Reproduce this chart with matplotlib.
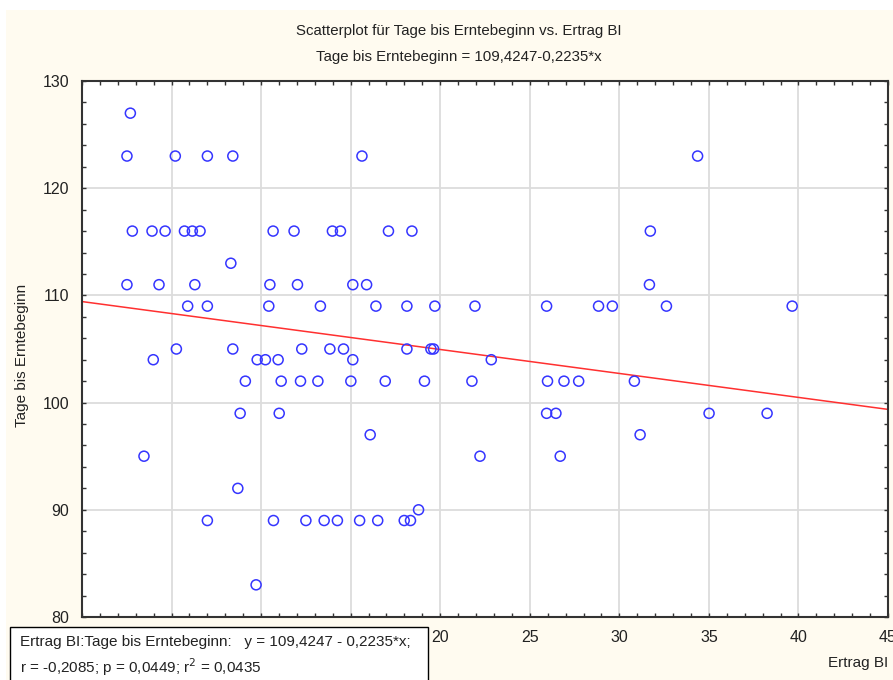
import matplotlib
matplotlib.use("Agg")
import matplotlib.pyplot as plt
from matplotlib.patches import Rectangle
from matplotlib.ticker import MultipleLocator
import numpy as np

plt.rcParams["font.family"] = ["Liberation Sans Narrow", "Liberation Sans", "DejaVu Sans"]

# Ertrag BI (x) and Tage bis Erntebeginn (y)
ertrag = [
    2.70,
    2.51, 5.21, 7.00, 8.42, 15.63, 34.37,
    2.81, 3.91, 4.64, 5.72, 6.16, 6.59, 10.67, 11.84, 13.98, 14.43, 17.11, 18.42, 31.73,
    8.31,
    2.51, 4.30, 6.30, 10.49, 12.03, 15.12, 15.89, 31.68,
    5.90, 7.00, 10.43, 13.31, 16.41, 18.14, 19.70, 21.94, 25.94, 28.84, 29.61, 32.63, 39.65,
    5.27, 8.42, 12.27, 13.84, 14.60, 18.14, 19.48, 19.63,
    3.98, 9.78, 10.24, 10.95, 15.12, 22.85,
    9.12, 11.12, 12.20, 13.17, 15.01, 16.93, 19.12, 21.77, 25.99, 26.91, 27.73, 30.84,
    8.83, 11.01, 25.94, 26.46, 35.01, 38.25,
    16.09, 31.16,
    3.46, 22.22, 26.70,
    8.70,
    18.79,
    7.00, 10.69, 12.50, 13.52, 14.26, 15.50, 16.51, 17.99, 18.34,
    9.72,
]
tage = (
    [127]
    + [123] * 6
    + [116] * 13
    + [113]
    + [111] * 8
    + [109] * 13
    + [105] * 8
    + [104] * 6
    + [102] * 12
    + [99] * 6
    + [97] * 2
    + [95] * 3
    + [92]
    + [90]
    + [89] * 9
    + [83]
)
intercept, slope = 109.4247, -0.2235
x_ticks = [0, 5, 10, 15, 20, 25, 30, 35, 40, 45]
y_ticks = [80, 90, 100, 110, 120, 130]

W, H = 893, 680
fig = plt.figure(figsize=(W / 100, H / 100), dpi=100, facecolor="white")
fig.patches.append(Rectangle((6 / W, 0), 1, 1 - 10 / H, transform=fig.transFigure,
                             facecolor="#fffbf0", edgecolor="none", zorder=-10))

ax = fig.add_axes([82 / W, 1 - 617 / H, 806 / W, 536 / H])
ax.set_facecolor("white")
ax.set_xlim(0, 45); ax.set_ylim(80, 130)
ax.set_xticks(x_ticks); ax.set_yticks(y_ticks)
ax.xaxis.set_minor_locator(MultipleLocator(1))
ax.yaxis.set_minor_locator(MultipleLocator(2))
ax.grid(True, which="major", color="#dcdcdc", lw=1.3, zorder=0)
ax.tick_params(which="both", direction="in", top=True, right=True, color="#333333",
               labelsize=11.5, labelcolor="#222222")
ax.tick_params(which="major", length=3, width=1)
ax.tick_params(which="minor", length=3, width=1)
ax.tick_params(axis="x", pad=9)
ax.tick_params(axis="y", pad=9)
for sp in ax.spines.values():
    sp.set_color("#333333"); sp.set_linewidth(1.5)

xs = np.array([0, 45])
ax.plot(xs, intercept + slope * xs, color="#ff3030", lw=1.1, zorder=2)
ax.scatter(ertrag, tage, s=52, facecolors="none", edgecolors="#3535ff", linewidths=1.1,
           zorder=3, clip_on=False)

fig.text(459 / W, 1 - 31 / H, "Scatterplot für Tage bis Erntebeginn vs. Ertrag BI",
         ha="center", va="center", fontsize=10.8, color="#222222")
fig.text(459 / W, 1 - 57 / H, "Tage bis Erntebeginn = 109,4247-0,2235*x",
         ha="center", va="center", fontsize=10.8, color="#222222")
fig.text(22 / W, 1 - 355 / H, "Tage bis Erntebeginn", rotation=90, ha="center",
         va="center", fontsize=11, color="#222222")
fig.text(888 / W, 1 - 663 / H, "Ertrag BI", ha="right", va="center", fontsize=11,
         color="#222222")

# statistics box covering the left x tick labels
fig.patches.append(Rectangle((10 / W, -0.01), 418 / W, 0.01 + (680 - 627) / H,
                             transform=fig.transFigure, facecolor="white",
                             edgecolor="black", lw=1, zorder=5))
fig.text(20 / W, 1 - 642 / H,
         "Ertrag BI:Tage bis Erntebeginn:   y = 109,4247 - 0,2235*x;",
         ha="left", va="center", fontsize=11, color="#222222", zorder=6)
fig.text(20 / W, 1 - 667 / H, "r = -0,2085; p = 0,0449; r$^2$ = 0,0435",
         ha="left", va="center", fontsize=11, color="#222222", zorder=6)

fig.savefig("out.png", dpi=100)
